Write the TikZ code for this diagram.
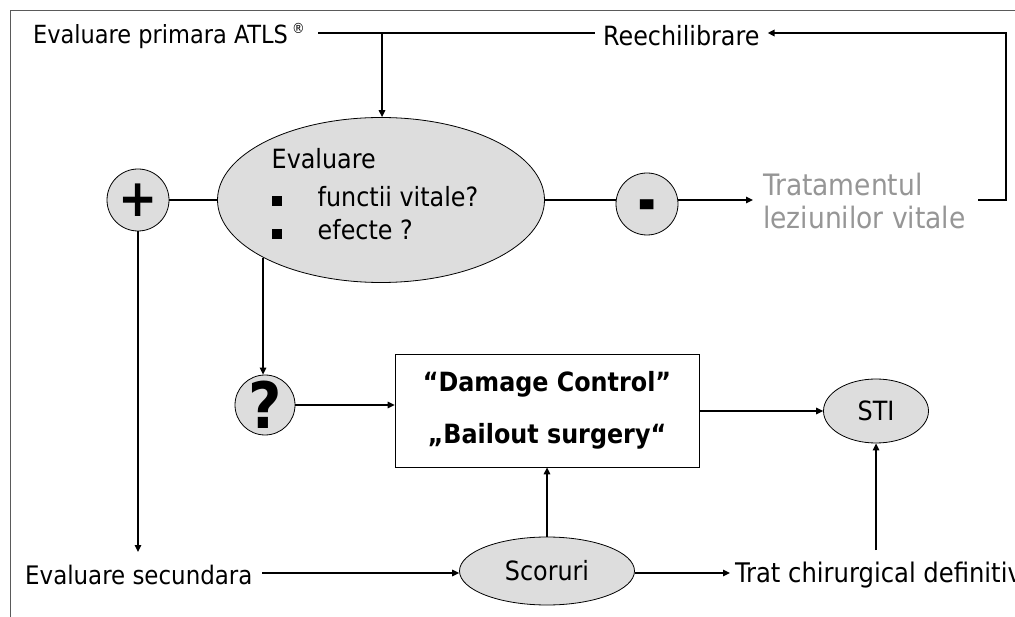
\documentclass[tikz,border=0pt]{standalone}
\usepackage{fontspec}
\setmainfont{DejaVu Sans Condensed}
\usetikzlibrary{shapes.geometric,arrows.meta}
\definecolor{cellgray}{RGB}{221,221,221}
\definecolor{txtgray}{RGB}{150,150,150}
\definecolor{framegray}{RGB}{90,90,90}
\begin{document}
\begin{tikzpicture}[x=1pt,y=-1pt,
  font=\fontsize{26.5}{30}\selectfont,
  thickline/.style={line width=2pt},
  arr/.style={line width=1.4pt,-{Triangle[length=7pt,width=6.5pt]}},
  thickarr/.style={line width=2pt,-{Triangle[length=7pt,width=6.5pt]}},
  gell/.style={ellipse, draw, fill=cellgray, line width=0.8pt, inner sep=0pt},
  gcirc/.style={circle, draw, fill=cellgray, minimum size=62pt, inner sep=0pt, line width=0.8pt},
  lbl/.style={inner sep=0pt, anchor=west}]
\useasboundingbox (0,0) rectangle (1015,617);
\clip (0,0) rectangle (1015,617);
\fill[white] (0,0) rectangle (1015,617);
\draw[line width=1pt, framegray] (10,617) -- (10,11) -- (1015,11);

% nodes
\node[lbl, font=\fontsize{25}{30}\selectfont] (atls) at (33,36) {Evaluare primara ATLS\,\raisebox{0.42em}{\fontsize{14}{14}\selectfont ®}};
\node[lbl] (reech) at (603,36) {Reechilibrare};
\node[gell, minimum width=327pt, minimum height=165pt] (ev) at (381,200) {};
\node[inner sep=0pt, xshift=-6pt, yshift=2pt] (evt) at (ev.center)
  {\begin{tabular}{@{}l@{\hspace{36pt}}l@{}}
   \multicolumn{2}{@{}l@{}}{Evaluare}\\[8pt]
   \rule{10pt}{10pt} & functii vitale?\\[3pt]
   \rule{10pt}{10pt} & efecte ?
   \end{tabular}};
\node[gcirc] (plus) at (138,200) {\fontsize{52}{52}\selectfont\bfseries +};
\node[gcirc] (minus) at (647,204) {\raisebox{-9pt}[\height][\depth]{\scalebox{1.45}[3]{\bfseries –}}};
\node[lbl, align=left, text=txtgray, font=\fontsize{29.5}{33}\selectfont] (trat) at (763,201) {Tratamentul\\leziunilor vitale};
\node[gcirc, minimum size=60pt] (q) at (265,405) {\fontsize{64}{64}\selectfont\bfseries ?};
\node[draw, line width=0.8pt, minimum width=304pt, minimum height=113pt, align=center,
  font=\fontsize{26.5}{52}\selectfont\bfseries] (dc) at (547,410.5)
  {“Damage Control”\\„Bailout surgery“};
\node[gell, minimum width=105pt, minimum height=64pt] (sti) at (876,411) {STI};
\node[lbl, font=\fontsize{25.5}{30}\selectfont] (sec) at (25,575) {Evaluare secundara};
\node[gell, minimum width=175pt, minimum height=68pt] (sc) at (547,571) {Scoruri};
\node[lbl, font=\fontsize{27}{30}\selectfont] (tcd) at (735,575) {Trat chirurgical definitiv};

\coordinate (j1) at (382,33);
\coordinate (r1) at (1006,200);
\coordinate (r2) at (1006,33);
\coordinate (p2) at (138,552);
\coordinate (t2) at (876,550);

% connectors
\draw[thickline] (318,33) -- ([xshift=-8pt]reech.west |- j1);
\draw[arr] (j1) -- (j1 |- ev.north);
\draw[thickarr] (978,200) -- (r1) -- (r2) -- ([xshift=8pt]reech.east |- r2);
\draw[thickline] (plus.east) -- (ev.west |- plus.east);
\draw[thickline] (ev.east |- 0,200) -- (minus.west |- 0,200);
\draw[arr] (minus.east |- 0,200) -- ([xshift=-10pt]trat.west |- 0,200);
\draw[arr] (plus.south) -- (p2);
\draw[arr] (ev.206.6) -- (ev.206.6 |- q.north);
\draw[arr] (q.east) -- (dc.west |- q.east);
\draw[arr] (dc.east |- sti.west) -- (sti.west);
\draw[arr] (262,573) -- (sc.west |- 0,573);
\draw[arr] (sc.north) -- (dc.south);
\draw[arr] (sc.east |- 0,573) -- ([xshift=-5pt]tcd.west |- 0,573);
\draw[arr] (t2) -- (sti.south);
\end{tikzpicture}
\end{document}
